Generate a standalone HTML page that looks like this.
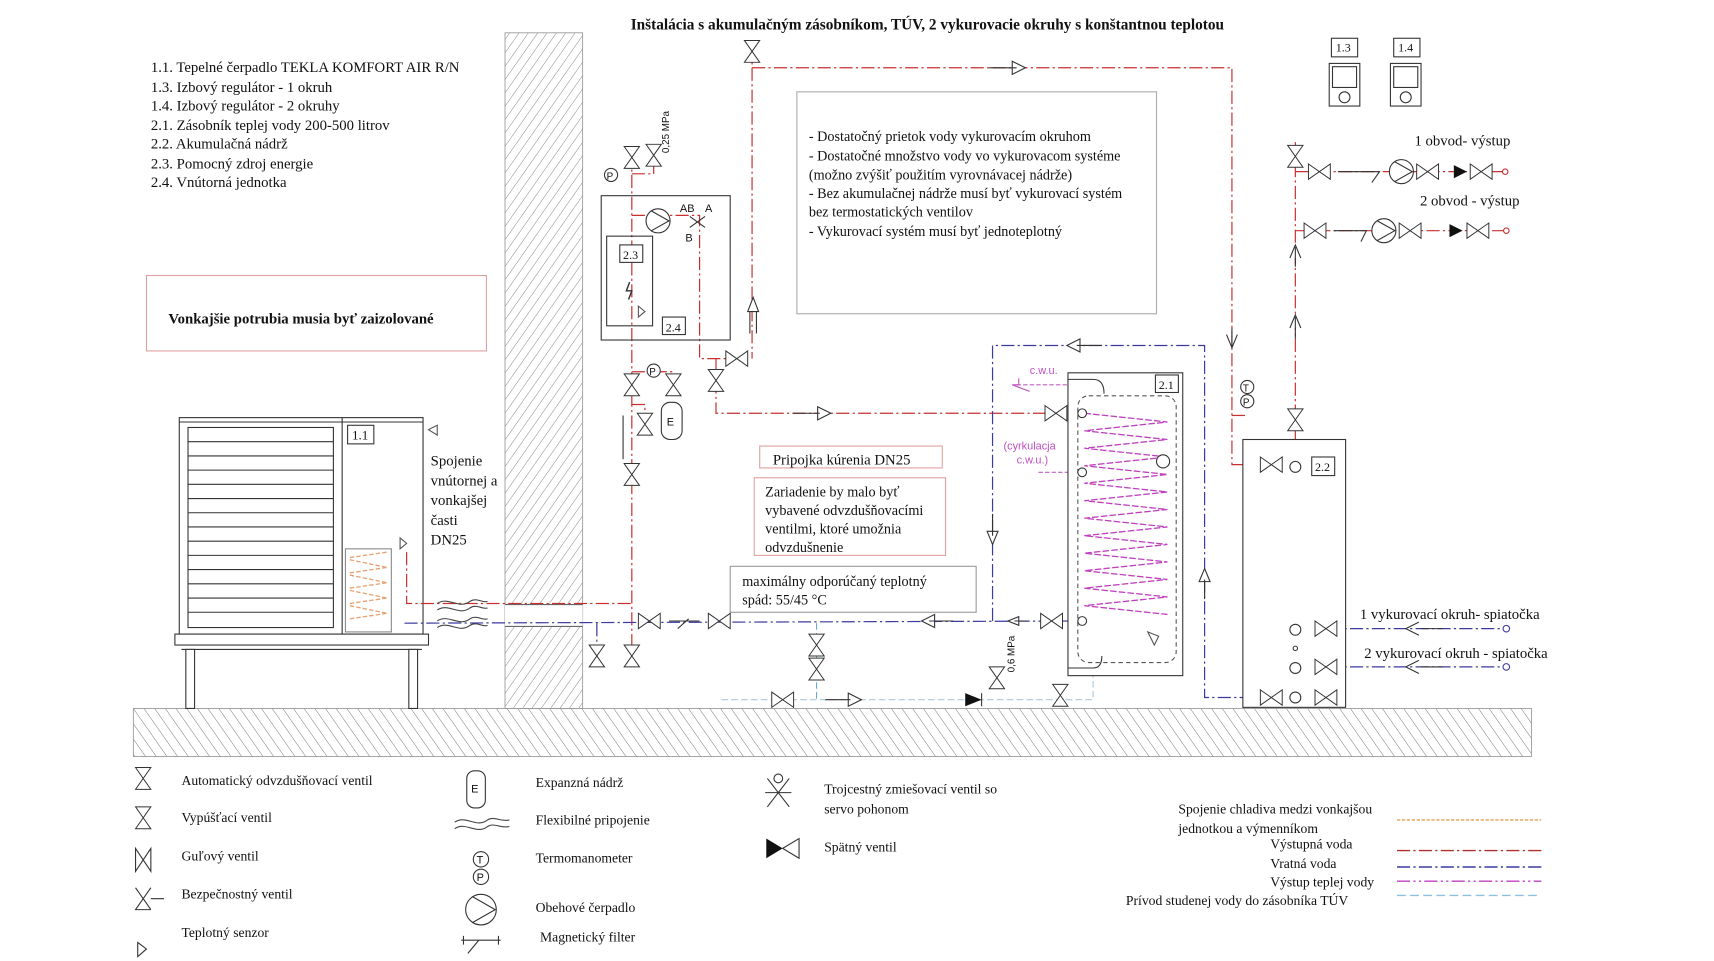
<!DOCTYPE html>
<html><head><meta charset="utf-8"><style>
html,body{margin:0;padding:0;background:#fff;width:1714px;height:961px;overflow:hidden}
svg{display:block}
text{font-family:"Liberation Serif",serif;fill:#111}
.s{font-family:"Liberation Sans",sans-serif}
</style></head><body>
<svg width="1714" height="961" viewBox="0 0 1568 879" preserveAspectRatio="none" xmlns="http://www.w3.org/2000/svg">
<defs>
<pattern id="h1" width="7" height="7" patternUnits="userSpaceOnUse" patternTransform="rotate(35)"><line x1="0" y1="0" x2="0" y2="7" stroke="#777" stroke-width="0.8"/></pattern>
<pattern id="h2" width="8" height="8" patternUnits="userSpaceOnUse" patternTransform="rotate(-35)"><line x1="0" y1="0" x2="0" y2="8" stroke="#666" stroke-width="0.8"/></pattern>
<g id="vh"><path d="M-10,-7 L10,7 L10,-7 L-10,7 Z" fill="#fff" stroke="#333" stroke-width="0.9"/></g>
<g id="vv"><path d="M-7,-10 L7,10 L-7,10 L7,-10 Z" fill="#fff" stroke="#333" stroke-width="0.9"/></g>
<g id="pump"><circle r="11" fill="#fff" stroke="#333"/><path d="M-6,-9 L10,0 L-6,9" fill="none" stroke="#333"/></g>
</defs>
<rect width="1568" height="879" fill="#fff"/>

<text x="577" y="27" font-size="14" font-weight="bold">Inštalácia s akumulačným zásobníkom, TÚV, 2 vykurovacie okruhy s konštantnou teplotou</text>

<g font-size="13.5">
<text x="138" y="66">1.1. Tepelné čerpadlo TEKLA KOMFORT AIR R/N</text>
<text x="138" y="84">1.3. Izbový regulátor - 1 okruh</text>
<text x="138" y="101">1.4. Izbový regulátor - 2 okruhy</text>
<text x="138" y="119">2.1. Zásobník teplej vody 200-500 litrov</text>
<text x="138" y="136">2.2. Akumulačná nádrž</text>
<text x="138" y="154">2.3. Pomocný zdroj energie</text>
<text x="138" y="171">2.4. Vnútorná jednotka</text>
</g>
<rect x="134" y="252" width="311" height="69" fill="none" stroke="#e0a0a0"/>
<text x="154" y="296" font-size="13.5" font-weight="bold">Vonkajšie potrubia musia byť zaizolované</text>

<rect x="462" y="30" width="71" height="618" fill="url(#h1)" stroke="#999" stroke-width="0.8"/>
<rect x="462" y="553" width="71" height="20" fill="#fff"/>
<line x1="462" y1="553" x2="533" y2="553" stroke="#666"/>
<line x1="462" y1="573" x2="533" y2="573" stroke="#666"/>
<rect x="122" y="648" width="1279" height="44" fill="url(#h2)" stroke="#999" stroke-width="0.8"/>

<rect x="164" y="382" width="223" height="198" fill="#fff" stroke="#333"/>
<line x1="164" y1="386" x2="387" y2="386" stroke="#333"/>
<rect x="172" y="391" width="133" height="183" fill="#fff" stroke="#333"/>
<g stroke="#333">
<line x1="172" y1="404" x2="305" y2="404"/><line x1="172" y1="417" x2="305" y2="417"/><line x1="172" y1="430" x2="305" y2="430"/><line x1="172" y1="443" x2="305" y2="443"/><line x1="172" y1="456" x2="305" y2="456"/><line x1="172" y1="469" x2="305" y2="469"/><line x1="172" y1="482" x2="305" y2="482"/><line x1="172" y1="495" x2="305" y2="495"/><line x1="172" y1="508" x2="305" y2="508"/><line x1="172" y1="521" x2="305" y2="521"/><line x1="172" y1="534" x2="305" y2="534"/><line x1="172" y1="547" x2="305" y2="547"/><line x1="172" y1="560" x2="305" y2="560"/>
<line x1="313" y1="382" x2="313" y2="580"/>
</g>
<rect x="318" y="389" width="24" height="17" fill="#fff" stroke="#333"/><text x="322" y="402" font-size="12">1.1</text>
<rect x="316" y="502" width="42" height="76" fill="#fff" stroke="#888"/>
<g stroke="#e8a070" stroke-dasharray="4,2" stroke-width="1.2">
<path d="M320,510 L354,505 M320,512 L354,519 M320,524 L354,519 M320,526 L354,533 M320,538 L354,533 M320,540 L354,547 M320,552 L354,547 M320,554 L354,561 M320,566 L354,561" fill="none"/>
</g>
<rect x="160" y="580" width="232" height="10" fill="#fff" stroke="#333"/>
<line x1="166" y1="594" x2="386" y2="594" stroke="#333"/>
<rect x="170" y="594" width="8" height="54" fill="#fff" stroke="#333"/>
<rect x="374" y="594" width="8" height="54" fill="#fff" stroke="#333"/>
<path d="M400,389 L392,393 L400,398 Z" fill="none" stroke="#555"/>
<path d="M366,492 L372,497 L366,502 Z" fill="none" stroke="#555"/>
<g font-size="13.5"><text x="394" y="426">Spojenie</text><text x="394" y="444">vnútornej a</text><text x="394" y="462">vonkajšej</text><text x="394" y="480">časti</text><text x="394" y="498">DN25</text></g>

<g fill="none" stroke="#c83030" stroke-width="1.1" stroke-dasharray="12,3,2,3">
<path d="M372,505 L372,552 L578,552"/>
<line x1="578" y1="140" x2="578" y2="600"/>
<path d="M578,159 L598,159 L598,150"/>
<path d="M578,197 L640,197 L640,328 L670,328"/>
<path d="M578,340 L616,340 L616,350"/>
<path d="M578,370 L590,370 L590,380"/>
<path d="M688,42 L688,328"/>
<path d="M688,62 L1127,62 L1127,425 L1160,425"/>
<path d="M655,328 L655,378 L965,378"/>
<path d="M1185,130 L1185,402"/>
<path d="M1185,157 L1378,157"/>
<path d="M1185,211 L1378,211"/>
<path d="M1127,380 L1140,380"/>
</g>
<g fill="none" stroke="#3a3aa0" stroke-width="1.1" stroke-dasharray="12,3,2,3">
<path d="M370,570 L990,568"/>
<path d="M546,570 L546,595"/>
<path d="M908,568 L908,316 L1102,316 L1102,638 L1160,638"/>
<path d="M1195,575 L1378,575"/>
<path d="M1195,610 L1378,610"/>
</g>
<path d="M747,570 L747,640" stroke="#6aaad0" stroke-dasharray="6,3" fill="none"/>
<path d="M660,640 L1000,640 L1000,618" stroke="#aac8e0" stroke-dasharray="6,3" fill="none"/>
<path d="M930,352 L986,352 M950,432 L986,432" stroke="#c060c0" stroke-dasharray="4,2" fill="none"/>

<path d="M400,552 C410,545 420,558 430,550 C436,546 442,552 446,550 M400,558 C410,551 420,564 430,556 C436,552 442,558 446,556" fill="none" stroke="#444"/>
<path d="M400,568 C410,561 420,574 430,566 C436,562 442,568 446,566 M400,574 C410,567 420,580 430,572 C436,568 442,574 446,572" fill="none" stroke="#444"/>

<rect x="550" y="179" width="118" height="132" fill="none" stroke="#333"/>
<rect x="555" y="216" width="42" height="82" fill="none" stroke="#333"/>
<rect x="567" y="224" width="21" height="16" fill="#fff" stroke="#333"/><text x="570" y="237" font-size="11">2.3</text>
<rect x="606" y="290" width="21" height="16" fill="#fff" stroke="#333"/><text x="609" y="303" font-size="11">2.4</text>
<path d="M576,258 L573,266 L578,266 L575,274" fill="none" stroke="#333" stroke-width="1.3"/>
<path d="M584,280 L590,285 L584,290 Z" fill="none" stroke="#555"/>
<use href="#pump" x="602" y="202"/>
<path d="M631,198 L645,208 M631,208 L645,198" stroke="#333"/>
<text x="622" y="194" font-size="10" class="s">AB</text><text x="645" y="194" font-size="10" class="s">A</text><text x="627" y="221" font-size="10" class="s">B</text>
<use href="#vv" x="578" y="144"/><use href="#vv" x="598" y="142"/>
<text x="612" y="140" font-size="9" class="s" transform="rotate(-90 612 140)">0,25 MPa</text>
<circle cx="559" cy="160" r="6" fill="#fff" stroke="#333"/><text x="555" y="164" font-size="9" class="s">P</text>
<circle cx="598" cy="339" r="6" fill="#fff" stroke="#333"/><text x="594" y="343" font-size="9" class="s">P</text>
<use href="#vv" x="578" y="352"/><use href="#vv" x="616" y="352"/><use href="#vv" x="590" y="388"/>
<use href="#vv" x="655" y="348"/><use href="#vh" x="674" y="328"/>
<use href="#vv" x="578" y="434"/><use href="#vv" x="578" y="600"/><use href="#vv" x="546" y="600"/>
<rect x="605" y="368" width="19" height="34" rx="8" fill="#fff" stroke="#333"/><text x="610" y="389" font-size="10" class="s">E</text>
<path d="M689,272 L684,285 L694,285 Z M686,285 L686,305 M692,285 L692,305" fill="#fff" stroke="#333"/>
<path d="M570,380 L570,420" stroke="#333"/>

<use href="#vh" x="688" y="47" transform="rotate(90 688 47)"/>
<path d="M905,62 L930,62 M926,56 L938,62 L926,68 Z" fill="#fff" stroke="#333"/>
<path d="M725,378 L750,378 M748,372 L760,378 L748,384 Z" fill="#fff" stroke="#333"/>

<rect x="729" y="84" width="329" height="203" fill="none" stroke="#aaa"/>
<g font-size="13"><text x="740" y="129">- Dostatočný prietok vody vykurovacím okruhom</text><text x="740" y="147">- Dostatočné množstvo vody vo vykurovacom systéme</text><text x="740" y="164">(možno zvýšiť použitím vyrovnávacej nádrže)</text><text x="740" y="181">- Bez akumulačnej nádrže musí byť vykurovací systém</text><text x="740" y="198">bez termostatických ventilov</text><text x="740" y="216">- Vykurovací systém musí byť jednoteplotný</text></g>

<rect x="695" y="408" width="167" height="20" fill="none" stroke="#e0a0a0"/><text x="707" y="425" font-size="13.5">Pripojka kúrenia DN25</text>
<rect x="690" y="437" width="175" height="71" fill="none" stroke="#e0a0a0"/>
<g font-size="13"><text x="700" y="454">Zariadenie by malo byť</text><text x="700" y="471">vybavené odvzdušňovacími</text><text x="700" y="488">ventilmi, ktoré umožnia</text><text x="700" y="505">odvzdušnenie</text></g>
<rect x="668" y="518" width="225" height="42" fill="#fff" stroke="#999"/>
<g font-size="13"><text x="679" y="536">maximálny odporúčaný teplotný</text><text x="679" y="553">spád: 55/45 °C</text></g>

<use href="#vh" x="594" y="568"/><use href="#vh" x="658" y="568"/>
<path d="M612,568 L640,568 M620,575 L630,566" stroke="#333" fill="none"/>
<use href="#vv" x="747" y="590"/><use href="#vv" x="747" y="612"/>
<use href="#vh" x="716" y="640"/>
<path d="M755,640 L778,640 M776,634 L788,640 L776,646 Z" fill="#fff" stroke="#333"/>
<path d="M883,634 L898,640 L883,646 Z" fill="#111"/><path d="M898,634 L898,646" stroke="#333"/>
<use href="#vv" x="912" y="620"/><text x="928" y="615" font-size="9" class="s" transform="rotate(-90 928 615)">0,6 MPa</text>
<use href="#vv" x="970" y="636"/>
<path d="M850,568 L872,568 M855,562 L843,568 L855,574 Z" fill="#fff" stroke="#333"/>
<path d="M928,568 L940,568 M932,564 L922,568 L932,572 Z" fill="#fff" stroke="#333"/>
<use href="#vh" x="962" y="568"/>
<path d="M908,470 L908,490 M903,486 L908,498 L913,486 Z" fill="#fff" stroke="#333"/>
<path d="M985,316 L1008,316 M988,310 L976,316 L988,322 Z" fill="#fff" stroke="#333"/>
<path d="M1102,530 L1102,548 M1097,532 L1102,520 L1107,532 Z" fill="#fff" stroke="#333"/>

<rect x="977" y="341" width="105" height="277" fill="#fff" stroke="#333"/>
<rect x="986" y="362" width="90" height="244" rx="10" fill="none" stroke="#555" stroke-dasharray="4,3"/>
<rect x="1057" y="343" width="21" height="16" fill="#fff" stroke="#333"/><text x="1060" y="356" font-size="11">2.1</text>
<path d="M977,347 L1000,347 Q1010,347 1010,360" fill="none" stroke="#333"/>
<path d="M977,611 L1000,611 Q1008,611 1008,600" fill="none" stroke="#333"/>
<g stroke="#c040c0" stroke-dasharray="6,2" stroke-width="1.2" fill="none">
<path d="M992,378 L1068,386 L992,394 L1068,402 L992,410 L1068,418 L992,426 L1068,434 L992,442 L1068,450 L992,458 L1068,466 L992,474 L1068,482 L992,490 L1068,498 L992,506 L1068,514 L992,522 L1068,530 L992,538 L1068,546 L992,554 L1068,562"/>
</g>
<circle cx="1064" cy="422" r="6" fill="#fff" stroke="#333"/>
<circle cx="990" cy="378" r="4" fill="#fff" stroke="#333"/><circle cx="990" cy="432" r="4" fill="#fff" stroke="#333"/><circle cx="990" cy="568" r="4" fill="#fff" stroke="#333"/>
<use href="#vh" x="966" y="378"/>
<text x="942" y="342" font-size="10" class="s" style="fill:#c050c0">c.w.u.</text>
<text x="918" y="411" font-size="10" class="s" style="fill:#c050c0">(cyrkulacja</text>
<text x="930" y="424" font-size="10" class="s" style="fill:#c050c0">c.w.u.)</text>
<path d="M932,346 L932,352 L926,352 L942,358" fill="none" stroke="#c050c0"/>
<path d="M1050,578 L1056,590 L1060,582 Z" fill="none" stroke="#555"/>

<circle cx="1141" cy="354" r="6" fill="#fff" stroke="#333"/><text x="1137" y="358" font-size="9" class="s">T</text>
<circle cx="1141" cy="367" r="6" fill="#fff" stroke="#333"/><text x="1137" y="371" font-size="9" class="s">P</text>
<path d="M1127,300 L1127,318 M1122,306 L1127,318 L1132,306" fill="none" stroke="#333"/>

<rect x="1137" y="402" width="94" height="245" fill="#fff" stroke="#333"/>
<rect x="1200" y="418" width="21" height="17" fill="#fff" stroke="#333"/><text x="1203" y="431" font-size="11">2.2</text>
<use href="#vh" x="1163" y="425"/><circle cx="1185" cy="427" r="5" fill="#fff" stroke="#333"/>
<use href="#vv" x="1185" y="384"/>
<circle cx="1185" cy="576" r="5" fill="#fff" stroke="#333"/><use href="#vh" x="1213" y="575"/>
<circle cx="1185" cy="593" r="2" fill="none" stroke="#333"/>
<circle cx="1185" cy="611" r="5" fill="#fff" stroke="#333"/><use href="#vh" x="1213" y="610"/>
<use href="#vh" x="1163" y="638"/><circle cx="1185" cy="638" r="5" fill="#fff" stroke="#333"/><use href="#vh" x="1213" y="638"/>
<circle cx="1378" cy="575" r="3" fill="#fff" stroke="#3a3aa0"/><circle cx="1378" cy="610" r="3" fill="#fff" stroke="#3a3aa0"/>
<path d="M1300,575 L1320,575 M1298,569 L1286,575 L1298,581 M1300,610 L1320,610 M1298,604 L1286,610 L1298,616" fill="none" stroke="#333"/>
<text x="1244" y="566" font-size="13.5">1 vykurovací okruh- spiatočka</text>
<text x="1248" y="602" font-size="13.5">2 vykurovací okruh - spiatočka</text>

<use href="#vv" x="1185" y="143"/>
<use href="#vh" x="1207" y="157"/><path d="M1224,157 L1262,157 L1255,167" fill="none" stroke="#333"/>
<use href="#pump" x="1282" y="157"/><use href="#vh" x="1306" y="157"/>
<path d="M1330,151 L1342,157 L1330,163 Z" fill="#111"/><use href="#vh" x="1355" y="157"/><circle cx="1377" cy="157" r="2.5" fill="#fff" stroke="#c83030"/>
<use href="#vh" x="1203" y="211"/><path d="M1220,211 L1250,211 L1245,221" fill="none" stroke="#333"/>
<use href="#pump" x="1266" y="211"/><use href="#vh" x="1290" y="211"/>
<path d="M1326,205 L1338,211 L1326,217 Z" fill="#111"/><use href="#vh" x="1352" y="211"/><circle cx="1378" cy="211" r="2.5" fill="#fff" stroke="#c83030"/>
<path d="M1185,226 L1185,244 M1180,236 L1185,224 L1190,236 M1185,290 L1185,310 M1180,300 L1185,288 L1190,300" fill="#fff" stroke="#333"/>
<text x="1294" y="133" font-size="13.5">1 obvod- výstup</text>
<text x="1299" y="188" font-size="13.5">2 obvod - výstup</text>

<rect x="1218" y="35" width="24" height="17" fill="#fff" stroke="#333"/><text x="1222" y="47" font-size="11">1.3</text>
<rect x="1275" y="35" width="24" height="17" fill="#fff" stroke="#333"/><text x="1279" y="47" font-size="11">1.4</text>
<rect x="1216" y="58" width="28" height="39" fill="#fff" stroke="#333"/><rect x="1219" y="61" width="22" height="19" fill="none" stroke="#333"/><circle cx="1230" cy="89" r="5" fill="none" stroke="#333"/>
<rect x="1272" y="58" width="28" height="39" fill="#fff" stroke="#333"/><rect x="1275" y="61" width="22" height="19" fill="none" stroke="#333"/><circle cx="1286" cy="89" r="5" fill="none" stroke="#333"/>

<g font-size="12.5">
<text x="166" y="718">Automatický odvzdušňovací ventil</text>
<text x="166" y="752">Vypúšťací ventil</text>
<text x="166" y="787">Guľový ventil</text>
<text x="166" y="822">Bezpečnostný ventil</text>
<text x="166" y="857">Teplotný senzor</text>
<text x="490" y="720">Expanzná nádrž</text>
<text x="490" y="754">Flexibilné pripojenie</text>
<text x="490" y="789">Termomanometer</text>
<text x="490" y="834">Obehové čerpadlo</text>
<text x="494" y="861">Magnetický filter</text>
<text x="754" y="726">Trojcestný zmiešovací ventil so</text>
<text x="754" y="744">servo pohonom</text>
<text x="754" y="779">Spätný ventil</text>
<text x="1078" y="744">Spojenie chladiva medzi vonkajšou</text>
<text x="1078" y="762">jednotkou a výmenníkom</text>
<text x="1162" y="776">Výstupná voda</text>
<text x="1162" y="794">Vratná voda</text>
<text x="1162" y="811">Výstup teplej vody</text>
<text x="1030" y="828">Prívod studenej vody do zásobníka TÚV</text>
</g>
<use href="#vv" x="131" y="712"/><use href="#vv" x="131" y="748"/>
<path d="M124,776 L138,797 L138,776 L124,797 Z" fill="#fff" stroke="#333"/>
<path d="M124,812 L138,832 M138,812 L124,832 L138,832 M138,822 L150,822" fill="none" stroke="#333"/>
<path d="M126,862 L134,868 L126,875 Z" fill="none" stroke="#333"/>
<rect x="427" y="705" width="17" height="34" rx="7" fill="#fff" stroke="#333"/><text x="431" y="725" font-size="10" class="s">E</text>
<path d="M416,752 C426,745 436,758 446,750 C452,746 458,752 466,750 M416,758 C426,751 436,764 446,756 C452,752 458,758 466,756" fill="none" stroke="#444"/>
<circle cx="440" cy="786" r="7" fill="#fff" stroke="#333"/><text x="436" y="790" font-size="10" class="s">T</text>
<circle cx="440" cy="802" r="7" fill="#fff" stroke="#333"/><text x="436" y="806" font-size="10" class="s">P</text>
<circle cx="440" cy="832" r="14" fill="#fff" stroke="#333"/><path d="M432,820 L453,832 L432,844" fill="none" stroke="#333"/>
<path d="M422,860 L458,860 M424,856 L424,864 M456,856 L456,864 M438,860 L428,872" fill="none" stroke="#333"/>
<path d="M702,712 L722,738 M722,712 L702,738 M700,725 L724,725" fill="none" stroke="#333"/><circle cx="712" cy="712" r="4" fill="#fff" stroke="#333"/>
<path d="M701,767 L716,776 L701,785 Z" fill="#111"/><path d="M716,776 L731,767 L731,785 Z" fill="#fff" stroke="#333"/>
<line x1="1278" y1="750" x2="1410" y2="750" stroke="#e0a050" stroke-dasharray="3,1.5" stroke-width="1.3"/>
<line x1="1278" y1="778" x2="1410" y2="778" stroke="#b03030" stroke-dasharray="12,3,2,3" stroke-width="1.3"/>
<line x1="1278" y1="793" x2="1410" y2="793" stroke="#3a3aa0" stroke-dasharray="12,3,2,3" stroke-width="1.3"/>
<line x1="1278" y1="806" x2="1410" y2="806" stroke="#c040c0" stroke-dasharray="12,3,2,3,2,3" stroke-width="1.3"/>
<line x1="1278" y1="819" x2="1410" y2="819" stroke="#90c0e0" stroke-dasharray="8,4" stroke-width="1.3"/>
</svg>
</body></html>
